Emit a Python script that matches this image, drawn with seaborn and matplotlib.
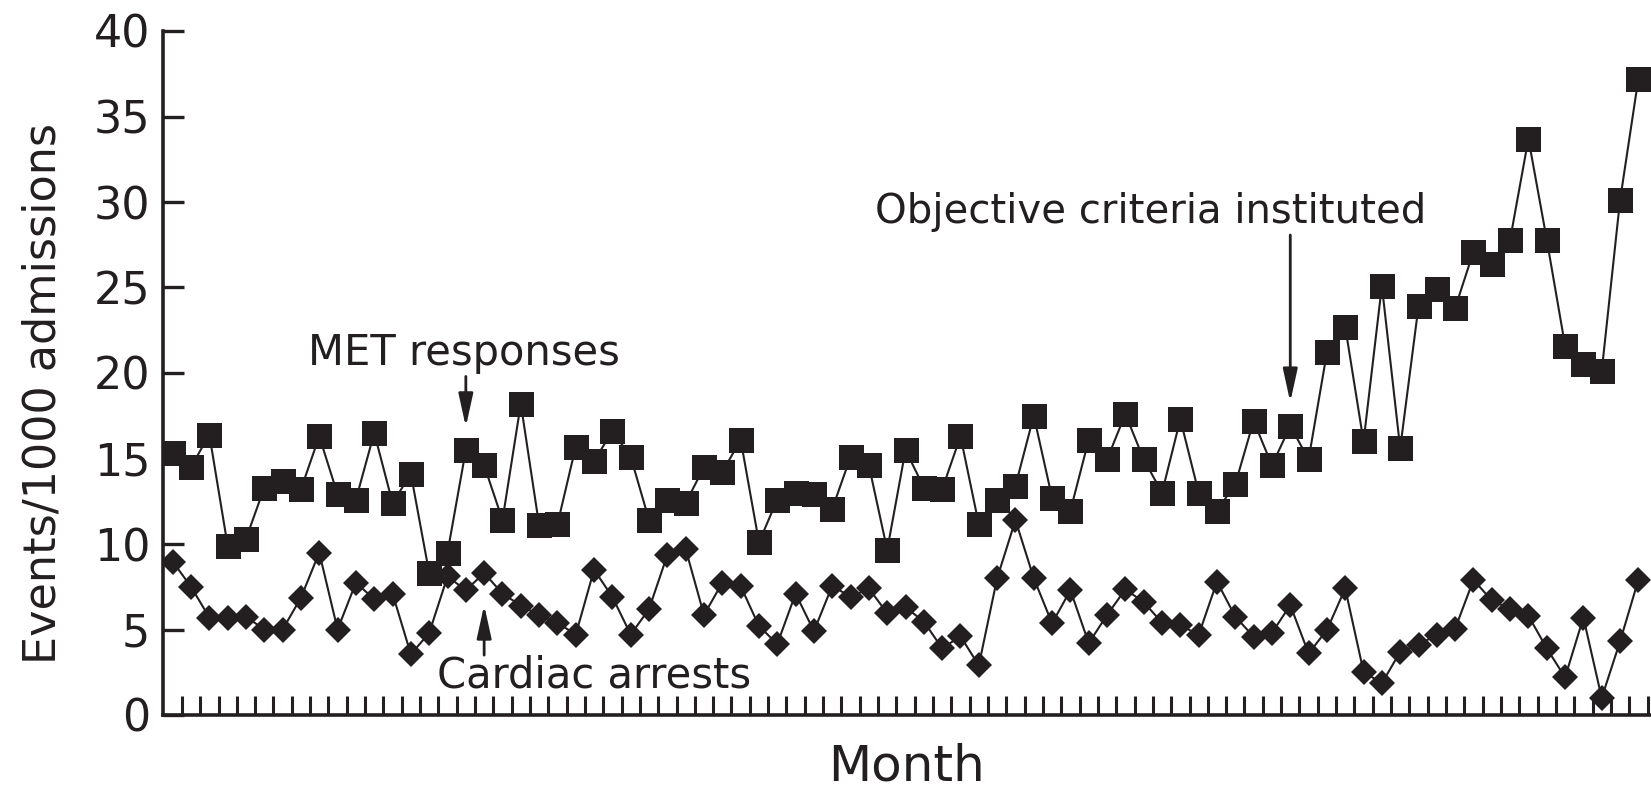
import numpy as np
import pandas as pd
import matplotlib
matplotlib.use("Agg")
import matplotlib.pyplot as plt
import seaborn as sns

# Monthly rates per 1000 admissions
months = list(range(1, 82))

met_responses = [
    15.3, 14.5, 16.4, 9.9, 10.3, 13.3, 13.7, 13.2, 16.3, 12.9,
    12.6, 16.5, 12.4, 14.1, 8.3, 9.5, 15.5, 14.6, 11.4, 18.2,
    11.1, 11.15, 15.7, 14.85, 16.6, 15.1, 11.4, 12.6, 12.4, 14.5,
    14.2, 16.1, 10.1, 12.6, 13.0, 12.9, 12.05, 15.1, 14.6, 9.65,
    15.5, 13.3, 13.2, 16.3, 11.15, 12.6, 13.4, 17.5, 12.7, 11.95,
    16.1, 14.95, 17.6, 14.95, 13.0, 17.3, 13.0, 11.95, 13.5, 17.2,
    14.6, 16.9, 14.95, 21.2, 22.7, 16.0, 25.1, 15.6, 23.9, 24.9,
    23.8, 27.1, 26.4, 27.8, 33.7, 27.8, 21.6, 20.5, 20.1, 30.1,
    37.2,
]

cardiac_arrests = [
    8.97, 7.5, 5.7, 5.7, 5.75, 5.0, 5.0, 6.86, 9.5, 5.0,
    7.74, 6.77, 7.1, 3.55, 4.8, 8.1, 7.3, 8.3, 7.1, 6.4,
    5.85, 5.4, 4.7, 8.5, 6.9, 4.7, 6.2, 9.36, 9.7, 5.85,
    7.74, 7.54, 5.2, 4.15, 7.1, 4.9, 7.56, 6.9, 7.4, 5.95,
    6.3, 5.46, 3.9, 4.6, 2.9, 8.0, 11.4, 8.0, 5.36, 7.3,
    4.2, 5.85, 7.35, 6.6, 5.4, 5.26, 4.68, 7.8, 5.75, 4.58,
    4.8, 6.43, 3.6, 4.97, 7.4, 2.53, 1.85, 3.7, 4.1, 4.7,
    5.05, 7.9, 6.7, 6.2, 5.8, 3.9, 2.2, 5.7, 1.0, 4.3,
    7.9,
]

y_ticks = [0, 5, 10, 15, 20, 25, 30, 35, 40]

met_label = "MET responses"
arrest_label = "Cardiac arrests"
criteria_label = "Objective criteria instituted"
criteria_month = 62
met_arrow_month = 17
arrest_arrow_month = 18

ink = "#231f20"

sns.set_theme(style="ticks")
plt.rcParams["font.family"] = ["DejaVu Sans"]
plt.rcParams["text.color"] = ink
plt.rcParams["axes.labelcolor"] = ink

W, H = 1651, 789
fig = plt.figure(figsize=(W / 100, H / 100), dpi=100)
fig.patch.set_facecolor("white")

left_px, right_px = 162.7, 1651
zero_px, top_px = 715, 31
ax = fig.add_axes([left_px / W, (H - zero_px) / H,
                   (right_px - left_px) / W, (zero_px - top_px) / H])
ax.set_facecolor("white")

df = pd.DataFrame({"month": months, "met": met_responses, "arrests": cardiac_arrests})

sns.lineplot(data=df, x="month", y="met", ax=ax, color=ink, linewidth=1.5,
             marker="s", markersize=18, markeredgewidth=0,
             markeredgecolor=ink, zorder=3)
sns.lineplot(data=df, x="month", y="arrests", ax=ax, color=ink, linewidth=1.5,
             marker="D", markersize=13.2, markeredgewidth=0,
             markeredgecolor=ink, zorder=4)

ax.set_xlim(0.454, 81.69)
ax.set_ylim(0, 40)

# month boundaries as inward ticks, no labels
ax.set_xticks(np.arange(1.5, 82, 1.0))
ax.set_xticklabels([])
ax.set_yticks(y_ticks)
ax.set_yticklabels([str(v) for v in y_ticks])

ax.tick_params(axis="x", direction="in", length=13.7, width=2.2, color=ink)
ax.tick_params(axis="y", direction="in", length=15, width=2.4, color=ink,
               labelsize=32, pad=9, labelcolor=ink)

for side in ["top", "right"]:
    ax.spines[side].set_visible(False)
for side in ["left", "bottom"]:
    ax.spines[side].set_linewidth(2.6)
    ax.spines[side].set_color(ink)

ax.set_xlabel("Month", fontsize=36, labelpad=16, color=ink)
ax.set_ylabel("Events/1000 admissions", fontsize=32, color=ink)
ax.yaxis.label.set(va="center", ha="center", rotation_mode="anchor")
ax.yaxis.set_label_coords((43 - left_px) / (right_px - left_px), 0.47)

arrow_kw = dict(arrowstyle="-|>,head_length=1.0,head_width=0.22",
                color=ink, lw=2, mutation_scale=20, shrinkA=0, shrinkB=0)

# MET responses label and arrow
ax.text(16.9, 20.47, met_label, fontsize=30, ha="center", va="baseline", color=ink)
ax.annotate("", xy=(met_arrow_month, 16.85), xytext=(met_arrow_month, 19.8),
            arrowprops=arrow_kw, zorder=6)

# Cardiac arrests label and arrow
ax.text(24.02, 1.58, arrest_label, fontsize=30, ha="center", va="baseline", color=ink)
ax.annotate("", xy=(arrest_arrow_month, 6.43), xytext=(arrest_arrow_month, 3.5),
            arrowprops=arrow_kw, zorder=6)

# change in activation criteria
ax.text(54.4, 28.77, criteria_label, fontsize=29, ha="center", va="baseline", color=ink)
ax.annotate("", xy=(criteria_month, 18.3), xytext=(criteria_month, 28.07),
            arrowprops=arrow_kw, zorder=6)

fig.savefig("out.png", dpi=100, facecolor="white")
